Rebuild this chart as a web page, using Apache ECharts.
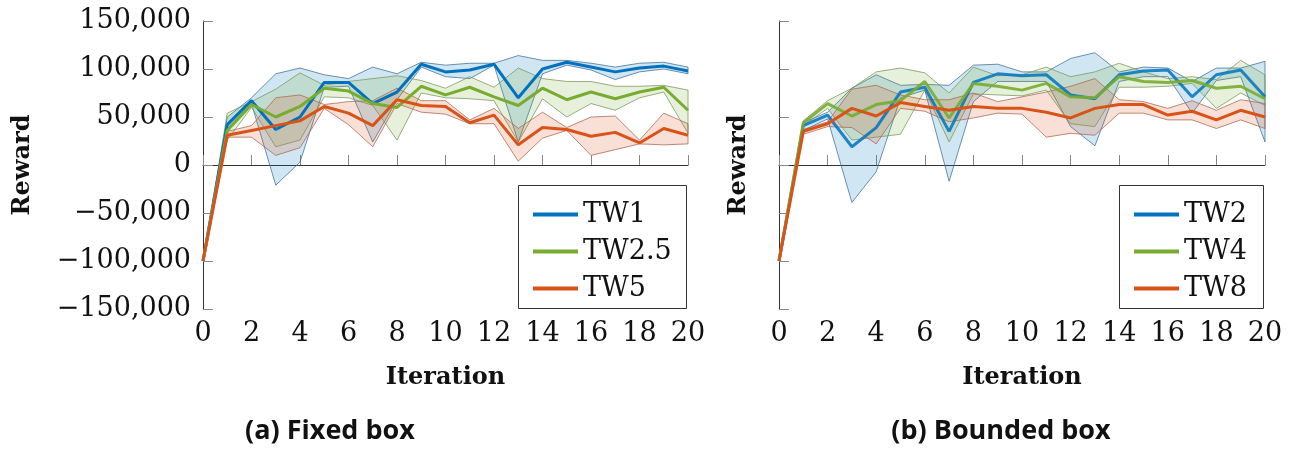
<!DOCTYPE html>
<html>
<head>
<meta charset="utf-8">
<script src="https://cdn.jsdelivr.net/npm/echarts@6/dist/echarts.min.js"></script>
<style>
  html, body { margin: 0; padding: 0; background: #fff; }
  #chart { width: 1293px; height: 450px; }
</style>
</head>
<body>
<div id="chart"></div>
<script>
// Iterations shared by both panels
const iterations = [0,1,2,3,4,5,6,7,8,9,10,11,12,13,14,15,16,17,18,19,20];
const yTicks = [-150000,-100000,-50000,0,50000,100000,150000];

// (a) Fixed box: mean reward with min/max band per time window
const tw1Mean = [-100000,42000,67000,37000,50000,86000,86000,64000,76000,105000,97000,99000,105000,70000,100000,107000,102000,97000,101000,103000,98000];
const tw1Low  = [-100000,38000,64000,-21000,3000,81000,82000,24000,68000,102000,92000,90000,104000,24000,95000,104000,99000,89000,97000,100000,95000];
const tw1High = [-100000,50000,70000,95000,101000,94000,90000,102000,95000,107000,104000,106000,106000,114000,109000,109000,106000,102000,106000,107000,102000];

const tw25Mean = [-100000,36000,63000,50000,61000,80000,77000,64000,60000,82000,73000,81000,71000,62000,80000,68000,76000,69000,76000,81000,57000];
const tw25Low  = [-100000,26000,60000,19000,26000,71000,70000,62000,26000,75000,70000,69000,67000,24000,69000,50000,64000,57000,70000,76000,33000];
const tw25High = [-100000,54000,66000,79000,96000,83000,87000,90000,93000,88000,80000,92000,81000,101000,90000,87000,87000,82000,82000,83000,78000];

const tw5Mean = [-100000,31000,36000,41000,46000,61000,54000,41000,68000,62000,61000,44000,52000,21000,39000,37000,30000,34000,23000,38000,31000];
const tw5Low  = [-100000,29000,29000,10000,18000,59000,42000,19000,64000,55000,53000,43000,43000,4000,28000,36000,10000,16000,22000,21000,22000];
const tw5High = [-100000,35000,41000,70000,73000,63000,66000,67000,80000,67000,67000,47000,59000,38000,55000,39000,50000,51000,26000,54000,43000];

// (b) Bounded box
const tw2Mean = [-100000,41000,52000,19000,39000,76000,81000,35000,86000,95000,93000,94000,73000,69000,94000,98000,99000,71000,94000,99000,71000];
const tw2Low  = [-100000,36000,48000,-39000,-7000,70000,78000,-17000,66000,87000,87000,87000,40000,20000,87000,92000,92000,54000,88000,92000,24000];
const tw2High = [-100000,44000,55000,80000,94000,83000,84000,83000,104000,105000,97000,97000,111000,117000,97000,102000,101000,87000,101000,101000,108000];

const tw4Mean = [-100000,44000,64000,51000,63000,67000,87000,49000,85000,82000,78000,85000,71000,70000,92000,87000,86000,88000,80000,82000,69000];
const tw4Low  = [-100000,41000,59000,26000,29000,32000,78000,24000,74000,73000,72000,78000,43000,40000,81000,81000,82000,85000,59000,75000,62000];
const tw4High = [-100000,46000,67000,80000,97000,101000,96000,75000,102000,93000,94000,102000,92000,97000,106000,97000,90000,92000,89000,109000,94000];

const tw8Mean = [-100000,35000,43000,59000,51000,65000,61000,57000,61000,59000,59000,55000,49000,59000,63000,63000,52000,56000,47000,57000,50000];
const tw8Low  = [-100000,32000,40000,39000,22000,59000,56000,45000,49000,54000,53000,29000,33000,31000,54000,54000,47000,47000,38000,47000,38000];
const tw8High = [-100000,37000,45000,79000,83000,73000,68000,68000,75000,66000,71000,76000,82000,90000,68000,66000,59000,67000,57000,68000,64000];

const leftNames  = ['TW1','TW2.5','TW5'];
const rightNames = ['TW2','TW4','TW8'];

const BLUE = '#0072bd', GREEN = '#77ac30', ORANGE = '#d95319';
const SERIF = 'DejaVu Serif';

function fmt(v) {
  const s = Math.abs(v).toString().replace(/\B(?=(\d{3})+(?!\d))/g, ',');
  return v < 0 ? '\u2212' + s : s;
}

// Shaded min/max band drawn as one polygon through the axis scales
function band(name, axis, low, high, fill, stroke) {
  return {
    name: name, type: 'custom', xAxisIndex: axis, yAxisIndex: axis,
    silent: true, z: 1,
    data: iterations.map((x, i) => [x, low[i], high[i]]),
    renderItem: function (params, api) {
      if (params.dataIndex !== 0) return { type: 'group', children: [] };
      const pts = [];
      for (let i = 0; i < iterations.length; i++) pts.push(api.coord([iterations[i], high[i]]));
      for (let i = iterations.length - 1; i >= 0; i--) pts.push(api.coord([iterations[i], low[i]]));
      return { type: 'polygon', shape: { points: pts }, style: { fill: fill, stroke: stroke, lineWidth: 1 } };
    }
  };
}

function line(name, axis, values, color, opacity) {
  return {
    name: name, type: 'line', xAxisIndex: axis, yAxisIndex: axis, z: 3,
    data: iterations.map((x, i) => [x, values[i]]),
    symbol: 'none', color: color,
    lineStyle: { width: 3, color: color, opacity: opacity }
  };
}

function xAxis(idx) {
  return {
    gridIndex: idx, type: 'value', min: 0, max: 20, interval: 2,
    name: 'Iteration', nameLocation: 'middle', nameGap: 57,
    nameTextStyle: { fontFamily: SERIF, fontWeight: 'bold', fontSize: 24, color: '#111' },
    axisLine: { lineStyle: { color: '#333', width: 1 } },
    axisTick: { inside: true, length: 10, lineStyle: { color: '#888' } },
    axisLabel: { fontFamily: SERIF, fontSize: 27, color: '#111', margin: 11 },
    splitLine: { show: false }
  };
}

function yAxis(idx, showLabels, gap) {
  return {
    gridIndex: idx, type: 'value', min: yTicks[0], max: yTicks[yTicks.length - 1], interval: 50000,
    name: 'Reward', nameLocation: 'middle', nameGap: gap,
    nameTextStyle: { fontFamily: SERIF, fontWeight: 'bold', fontSize: 24, color: '#111' },
    axisLine: { show: true, lineStyle: { color: '#333', width: 1 } },
    axisTick: { show: true, inside: true, length: 10, lineStyle: { color: '#888' } },
    axisLabel: { show: showLabels, fontFamily: SERIF, fontSize: 27, color: '#111', margin: 12, formatter: fmt },
    splitLine: { show: false }
  };
}

function legend(names, left, top) {
  return {
    data: names, orient: 'vertical', left: left, top: top, z: 20,
    icon: 'rect', itemWidth: 45, itemHeight: 4, itemGap: 10,
    textStyle: { fontFamily: SERIF, fontSize: 27, color: '#111', lineHeight: 27 },
    selectedMode: false
  };
}

const chart = echarts.init(document.getElementById('chart'), null, { renderer: 'canvas' });
chart.setOption({
  animation: false,
  backgroundColor: '#fff',
  grid: [
    { left: 203, top: 21, width: 485, height: 288 },
    { left: 779, top: 21, width: 486, height: 288 }
  ],
  xAxis: [xAxis(0), xAxis(1)],
  yAxis: [yAxis(0, true, 168), yAxis(1, false, 28)],
  legend: [legend(leftNames, 528, 196), legend(rightNames, 1129, 196)],
  graphic: [
    { type: 'rect', z: 10, shape: { x: 518.5, y: 185.5, width: 168, height: 123 },
      style: { fill: '#fff', stroke: '#333', lineWidth: 1 } },
    { type: 'rect', z: 10, shape: { x: 1119.5, y: 185.5, width: 144, height: 123 },
      style: { fill: '#fff', stroke: '#333', lineWidth: 1 } },
    { type: 'text', z: 10, x: 330, y: 431,
      style: { text: '(a) Fixed box', textAlign: 'center', textVerticalAlign: 'middle',
               font: 'bold 27px "Open Sans"', fill: '#111' } },
    { type: 'text', z: 10, x: 1001, y: 431,
      style: { text: '(b) Bounded box', textAlign: 'center', textVerticalAlign: 'middle',
               font: 'bold 27px "Open Sans"', fill: '#111' } }
  ],
  series: [
    band('TW1 range', 0, tw1Low, tw1High, 'rgba(0,114,189,0.18)', 'rgba(60,110,150,0.75)'),
    band('TW2.5 range', 0, tw25Low, tw25High, 'rgba(119,172,48,0.18)', 'rgba(120,150,90,0.75)'),
    band('TW5 range', 0, tw5Low, tw5High, 'rgba(217,83,25,0.18)', 'rgba(170,100,80,0.75)'),
    line('TW1', 0, tw1Mean, BLUE, 1),
    line('TW2.5', 0, tw25Mean, GREEN, 1),
    line('TW5', 0, tw5Mean, ORANGE, 1),
    band('TW2 range', 1, tw2Low, tw2High, 'rgba(0,114,189,0.18)', 'rgba(60,110,150,0.75)'),
    band('TW4 range', 1, tw4Low, tw4High, 'rgba(119,172,48,0.18)', 'rgba(120,150,90,0.75)'),
    band('TW8 range', 1, tw8Low, tw8High, 'rgba(217,83,25,0.18)', 'rgba(170,100,80,0.75)'),
    line('TW2', 1, tw2Mean, BLUE, 0.85),
    line('TW4', 1, tw4Mean, GREEN, 0.9),
    line('TW8', 1, tw8Mean, ORANGE, 1)
  ]
});
</script>
</body>
</html>
